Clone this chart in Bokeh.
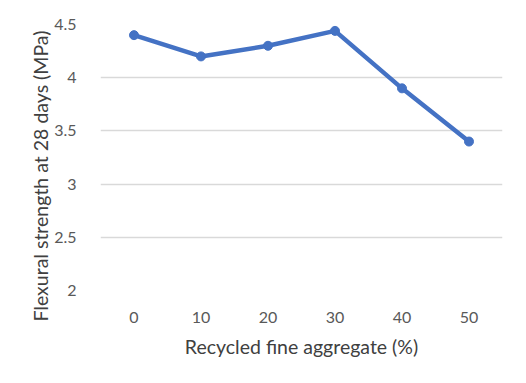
from bokeh.plotting import figure
from bokeh.layouts import column
from bokeh.models import Range1d, FixedTicker, ColumnDataSource, Title
from bokeh.embed import file_html
from bokeh.resources import INLINE

# Data
rfa_pct = [0, 10, 20, 30, 40, 50]
flexural_28d = [4.40, 4.20, 4.30, 4.44, 3.90, 3.40]
y_ticks = [2, 2.5, 3, 3.5, 4, 4.5]
y_tick_labels = ["2", "2.5", "3", "3.5", "4", "4.5"]
x_tick_labels = ["0", "10", "20", "30", "40", "50"]
y_title = "Flexural strength at 28 days (MPa)"
x_title = "Recycled fine aggregate (%)"

FONT = "Lato"
GRAY = "#595959"
BLUE = "#4472C4"
W, H = 526, 383

p = figure(width=W, height=H, output_backend="svg", toolbar_location=None,
           x_range=Range1d(-5, 55), y_range=Range1d(2, 4.5),
           min_border_left=100, min_border_right=24, min_border_top=24, min_border_bottom=93)

src = ColumnDataSource(dict(x=rfa_pct, y=flexural_28d))
p.line("x", "y", source=src, line_color=BLUE, line_width=4.5, line_join="round", line_cap="round")
p.scatter("x", "y", source=src, size=9, fill_color=BLUE, line_color=BLUE)

p.outline_line_color = None
p.border_fill_color = "white"
p.background_fill_color = "white"

# grid
p.xgrid.grid_line_color = None
p.ygrid.grid_line_color = "#D9D9D9"
p.ygrid.grid_line_width = 1.5

p.yaxis.ticker = FixedTicker(ticks=y_ticks)
p.yaxis.major_label_overrides = {t: l for t, l in zip(y_ticks, y_tick_labels)}
p.xaxis.ticker = FixedTicker(ticks=rfa_pct)
p.xaxis.major_label_overrides = {t: l for t, l in zip(rfa_pct, x_tick_labels)}

for ax in (p.xaxis[0], p.yaxis[0]):
    ax.axis_line_color = None
    ax.major_tick_line_color = None
    ax.minor_tick_line_color = None
    ax.major_label_text_font = FONT
    ax.major_label_text_font_size = "16px"
    ax.major_label_text_color = GRAY
    ax.axis_label_text_font = FONT
    ax.axis_label_text_font_size = "19.5px"
    ax.axis_label_text_font_style = "normal"
    ax.axis_label_text_color = "#404040"

p.xaxis.axis_label = x_title
p.yaxis.major_label_standoff = 18
p.xaxis.major_label_standoff = 15
p.xaxis.axis_label_standoff = 9

# y-axis title as a side title so it can sit lower, like Excel's
p.add_layout(Title(text=y_title, align="left", offset=-31, standoff=0,
                   text_font=FONT, text_font_size="19.5px", text_font_style="normal",
                   text_color="#404040"), "left")

# light chart-area border around the whole chart
layout = column(p, styles={"outline": "1px solid #D9D9D9", "outline-offset": "-3px"})

open("out.html", "w").write(file_html(layout, INLINE))
